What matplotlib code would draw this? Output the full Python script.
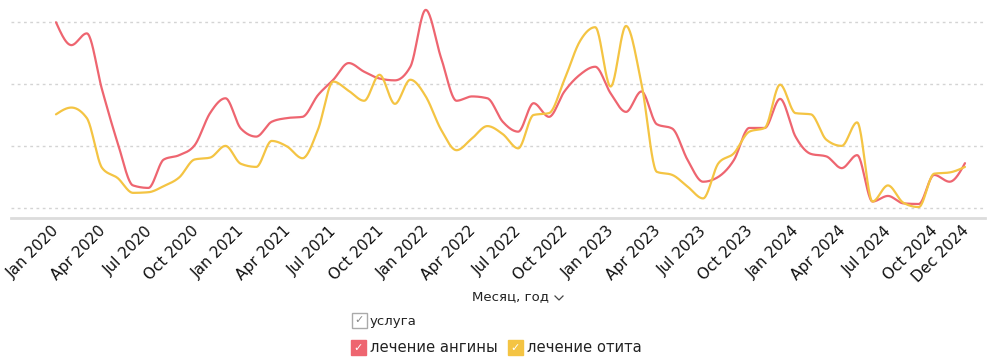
import numpy as np
import matplotlib.pyplot as plt
import matplotlib.transforms as mtransforms
from matplotlib.patches import Rectangle
from matplotlib.lines import Line2D

# monthly values, Jan 2020 .. Dec 2024 (arbitrary units)
angina = [300, 263, 282, 190, 105, 36, 32, 78, 85, 101, 153, 177,
          128, 115, 139, 145, 147, 182, 207, 234, 220, 209, 206, 228,
          320, 242, 173, 180, 177, 139, 123, 169, 147, 188, 215, 228,
          185, 155, 188, 135, 128, 77, 42, 50, 77, 129, 129, 176,
          115, 87, 83, 64, 85, 10, 19, 7, 6, 53, 42, 72]
otitis = [151, 162, 145, 64, 48, 24, 25, 35, 49, 78, 81, 100,
          71, 66, 108, 99, 80, 126, 204, 189, 173, 215, 168, 207,
          180, 126, 93, 112, 132, 119, 96, 150, 153, 207, 269, 292,
          196, 294, 201, 58, 53, 34, 15, 72, 88, 123, 129, 199,
          153, 151, 110, 100, 138, 10, 36, 8, 1, 55, 57, 66]
months = ['Jan', 'Feb', 'Mar', 'Apr', 'May', 'Jun', 'Jul', 'Aug', 'Sep', 'Oct', 'Nov', 'Dec']
years = [2020, 2021, 2022, 2023, 2024]
labels = [f'{m} {y}' for y in years for m in months]
tick_idx = list(range(0, 60, 3)) + [59]

RED = '#ee6570'
YEL = '#f4c443'


def monotone(y, n=24):
    # Steffen monotone cubic, the same smoothing the dashboard draws
    y = np.asarray(y, float)
    x = np.arange(len(y), dtype=float)
    s = np.diff(y)
    m = np.zeros_like(y)
    for i in range(1, len(y) - 1):
        p = (s[i - 1] + s[i]) / 2
        m[i] = (np.sign(s[i - 1]) + np.sign(s[i])) * min(abs(s[i - 1]), abs(s[i]), 0.5 * abs(p))
    m[0] = (3 * s[0] - m[1]) / 2
    m[-1] = (3 * s[-1] - m[-2]) / 2
    xs, ys = [], []
    for i in range(len(y) - 1):
        t = np.linspace(0, 1, n, endpoint=False)
        h00 = 2 * t**3 - 3 * t**2 + 1
        h10 = t**3 - 2 * t**2 + t
        h01 = -2 * t**3 + 3 * t**2
        h11 = t**3 - t**2
        xs.append(x[i] + t)
        ys.append(h00 * y[i] + h10 * m[i] + h01 * y[i + 1] + h11 * m[i + 1])
    xs.append([x[-1]])
    ys.append([y[-1]])
    return np.concatenate(xs), np.concatenate(ys)


W, H = 990, 362
fig = plt.figure(figsize=(W / 100, H / 100), dpi=100)
ax = fig.add_axes([11 / W, 1 - 217.7 / H, 974 / W, 217.7 / H])

for vals, c in [(angina, RED), (otitis, YEL)]:
    xs, ys = monotone(vals)
    ax.plot(xs, ys, color=c, lw=1.6, solid_capstyle='round', zorder=3)

ax.set_xlim(-2.92, 60.3)
ax.set_ylim(-16.2, 336)
ax.set_yticks([0, 100, 200, 300])
ax.yaxis.grid(True, color='#d4d4d4', linestyle=(0, (2, 2.5)), lw=1)
ax.tick_params(axis='y', left=False, labelleft=False)
ax.set_xticks(tick_idx)
ax.set_xticklabels([labels[i] for i in tick_idx], rotation=45, ha='right', va='top',
                   rotation_mode='anchor', fontsize=11, color='#111111')
ax.tick_params(axis='x', length=0, pad=4)
shift = mtransforms.ScaledTranslation(-4 / 100, 0, fig.dpi_scale_trans)
for lab in ax.get_xticklabels():
    lab.set_transform(lab.get_transform() + shift)
for side in ['top', 'right', 'left']:
    ax.spines[side].set_visible(False)
ax.spines['bottom'].set_color('#dcdcdc')
ax.spines['bottom'].set_linewidth(2)

# axis title with chevron
fig.text(510 / W, 1 - 297 / H, 'Месяц, год', ha='center', va='center', fontsize=9.5, color='#222222')
fig.add_artist(Line2D([555 / W, 559 / W, 563 / W], [1 - 296 / H, 1 - 300 / H, 1 - 296 / H],
                      transform=fig.transFigure, color='#444444', lw=0.9))

# legend
def box(x, y, face, edge, check):
    fig.add_artist(Rectangle((x / W, 1 - (y + 15) / H), 15 / W, 15 / H, transform=fig.transFigure,
                             facecolor=face, edgecolor=edge, lw=1))
    fig.text((x + 7.5) / W, 1 - (y + 7.5) / H, '✓', ha='center', va='center', fontsize=8, color=check)

box(352, 313, 'white', '#aaaaaa', '#888888')
fig.text(370 / W, 1 - 321 / H, 'услуга', ha='left', va='center', fontsize=9.5, color='#222222')
box(351, 340, RED, RED, 'white')
fig.text(370 / W, 1 - 348 / H, 'лечение ангины', ha='left', va='center', fontsize=10.6, color='#222222')
box(508, 340, YEL, YEL, 'white')
fig.text(527 / W, 1 - 348 / H, 'лечение отита', ha='left', va='center', fontsize=10.6, color='#222222')

fig.savefig('out.png', dpi=100)
